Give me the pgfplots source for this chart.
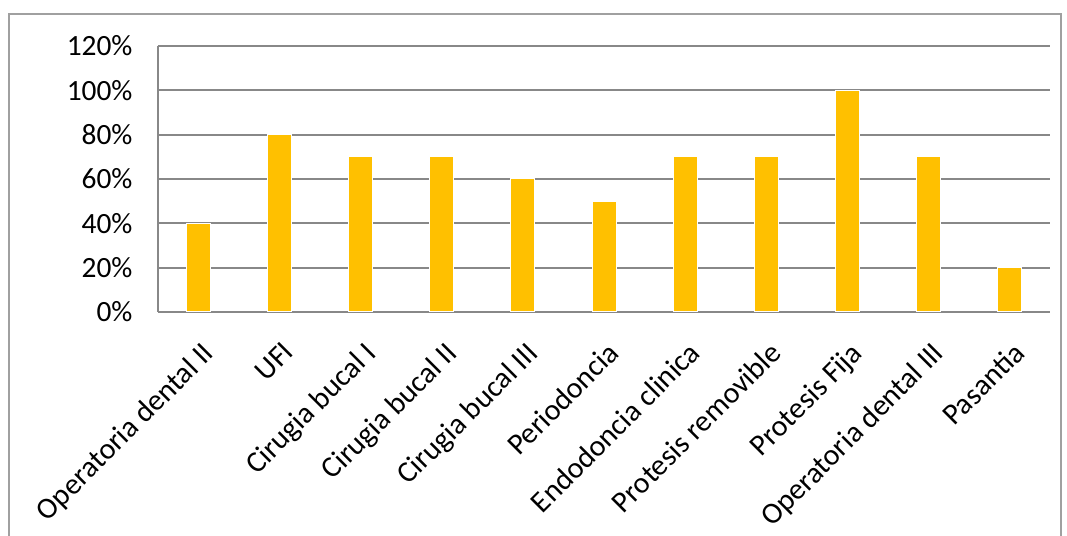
\documentclass[border=0pt]{standalone}
\usepackage{pgfplots}
\pgfplotsset{compat=1.18}
\usepackage{fontspec}
\setmainfont{Carlito}
\definecolor{barc}{HTML}{FFC000}
\definecolor{gridc}{HTML}{888888}
\definecolor{framec}{HTML}{A0A0A0}
\begin{document}
\begin{tikzpicture}[x=1bp,y=1bp]
\path[use as bounding box] (-158,-224) rectangle (909,312);
\draw[framec, line width=1.5bp] (-149,-240) -- (-149,298) -- (903,298) -- (903,-240);
\begin{axis}[
  at={(0,0)}, anchor=south west,
  scale only axis, width=892bp, height=266bp,
  xmin=-0.5, xmax=10.5, ymin=0, ymax=120,
  ybar, bar width=24bp,
  axis x line*=bottom, axis y line*=left,
  axis line style={gridc, line width=2bp, -},
  ymajorgrids, grid style={gridc, line width=2bp},
  major tick length=0pt,
  ytick={0,20,40,60,80,100,120},
  yticklabels={0\%,20\%,40\%,60\%,80\%,100\%,120\%},
  yticklabel style={font=\fontsize{29.5}{34}\selectfont, xshift=-22bp},
  xtick={0,...,10},
  xticklabels={Operatoria dental II,UFI,Cirugia bucal I,Cirugia bucal II,Cirugia bucal III,Periodoncia,Endodoncia clinica,Protesis removible,Protesis Fija,Operatoria dental III,Pasantia},
  xticklabel style={font=\fontsize{30}{34}\selectfont, rotate=45, anchor=north east, xshift=-15bp, yshift=-18bp},
]
\addplot[fill=barc, draw=white, line width=1bp] coordinates {
(0,40) (1,80) (2,70) (3,70) (4,60) (5,50) (6,70) (7,70) (8,100) (9,70) (10,20)};
\end{axis}
\end{tikzpicture}
\end{document}
